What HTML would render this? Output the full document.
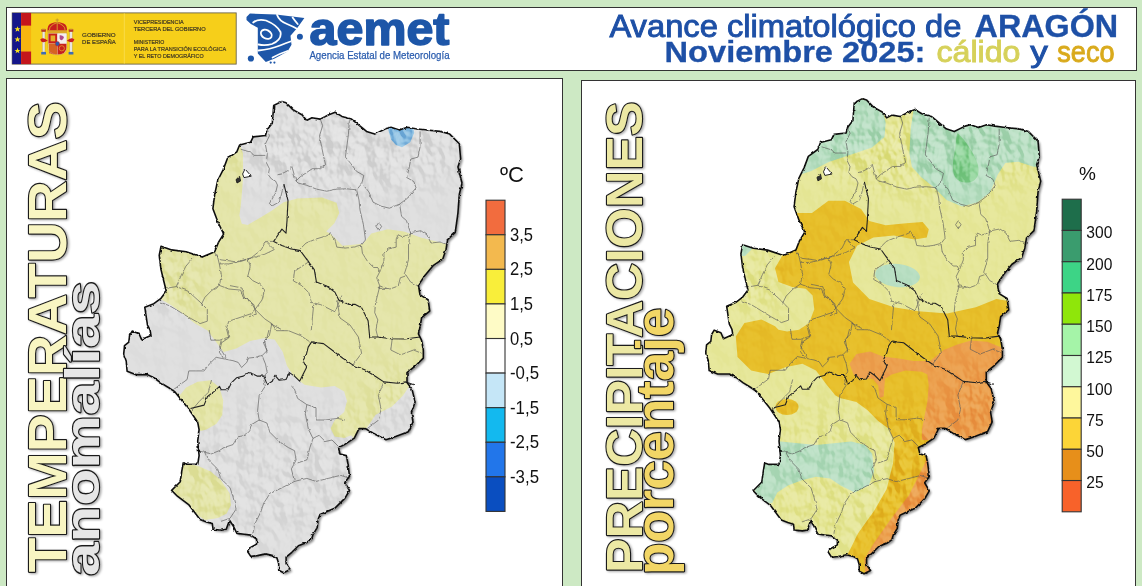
<!DOCTYPE html>
<html><head><meta charset="utf-8"><title>Avance climatológico de Aragón - Noviembre 2025</title>
<style>
html,body{margin:0;padding:0;}
body{width:1142px;height:586px;overflow:hidden;background:#cde9c4;position:relative;font-family:"Liberation Sans","DejaVu Sans",sans-serif;}
.box{position:absolute;background:#fff;box-sizing:border-box;border:1.5px solid #333;}
svg{position:absolute;left:0;top:0;}
</style></head><body>
<div class="box" style="left:6px;top:7px;width:1131px;height:63.5px;"></div>
<div class="box" style="left:6px;top:78px;width:557px;height:520px;"></div>
<div class="box" style="left:581px;top:80px;width:555px;height:520px;"></div>
<svg width="1142" height="586" viewBox="0 0 1142 586" font-family="Liberation Sans, DejaVu Sans, sans-serif">
<defs>
<path id="ol" d="M281.9 101.4 L286.0 102.7 L292.8 109.6 L302.3 115.0 L306.4 120.5 L311.9 117.8 L320.1 119.1 L328.3 115.0 L335.1 112.3 L341.9 116.4 L351.5 119.1 L358.3 124.6 L366.5 131.4 L374.7 134.1 L385.6 128.7 L391.0 127.3 L399.2 130.0 L407.4 127.3 L415.6 128.7 L426.5 130.0 L440.2 131.4 L449.7 134.1 L459.3 143.7 L460.6 158.7 L457.9 166.9 L462.0 183.3 L459.3 194.2 L457.9 213.3 L455.2 232.4 L447.6 239.7 L446.0 249.5 L442.7 259.2 L433.0 265.7 L424.9 275.4 L418.4 285.1 L420.0 294.9 L428.1 299.7 L429.7 311.1 L421.6 317.6 L420.0 327.3 L418.4 333.8 L421.6 340.3 L423.3 350.0 L423.3 358.1 L415.1 366.2 L407.0 372.7 L407.0 382.4 L411.9 388.9 L415.1 401.9 L411.4 412.7 L413.0 422.2 L408.3 431.7 L395.6 436.5 L386.0 439.7 L373.3 433.3 L365.4 428.6 L359.0 428.6 L354.3 438.1 L344.8 444.4 L338.4 447.6 L340.0 454.0 L346.3 455.6 L347.9 463.5 L349.5 476.2 L344.8 482.5 L349.5 490.5 L344.8 498.4 L335.2 507.9 L324.1 512.7 L320.0 514.6 L318.0 519.5 L317.2 527.7 L313.1 534.3 L311.5 539.2 L306.6 542.5 L298.4 545.7 L291.8 552.3 L286.1 557.2 L286.1 563.8 L290.2 569.5 L283.6 572.8 L278.7 570.3 L278.7 563.8 L277.0 558.0 L273.0 555.6 L265.6 553.9 L257.4 555.6 L250.8 556.4 L247.5 551.5 L249.2 548.2 L256.6 544.1 L256.6 539.2 L250.8 535.1 L244.3 534.3 L236.9 533.4 L232.8 525.2 L229.5 520.3 L226.2 529.3 L221.3 530.2 L213.1 529.3 L212.3 523.6 L206.6 522.0 L200.0 519.5 L189.0 504.9 L177.4 496.2 L171.6 490.4 L180.3 481.7 L181.7 471.6 L183.2 462.9 L187.5 464.3 L197.7 464.3 L199.1 455.7 L197.7 441.2 L199.1 429.6 L197.7 422.3 L191.9 413.6 L188.5 408.7 L181.7 400.2 L174.8 391.7 L169.7 388.3 L161.2 383.1 L154.4 378.0 L147.5 374.6 L135.6 374.6 L127.1 371.2 L126.2 361.0 L123.7 354.1 L124.5 345.6 L128.8 342.2 L129.6 335.4 L132.2 331.1 L139.0 333.7 L141.6 339.6 L151.0 335.4 L150.1 330.2 L147.5 325.1 L146.7 320.0 L144.8 307.3 L153.8 303.7 L161.0 298.3 L166.3 291.2 L164.5 284.0 L161.0 269.6 L159.2 255.3 L161.0 246.3 L171.7 249.9 L186.1 251.7 L202.2 257.1 L214.7 251.7 L218.3 242.7 L223.7 233.8 L218.3 223.0 L212.9 208.7 L214.7 194.3 L217.7 180.5 L223.2 169.6 L227.3 158.7 L236.8 151.9 L239.6 145.0 L250.5 142.3 L253.2 136.9 L265.5 135.5 L266.9 130.0 L272.3 123.2 L273.7 105.5 Z"/>
<clipPath id="cL"><use href="#ol"/></clipPath>
<clipPath id="cR"><use href="#ol" transform="matrix(0.99,0,0,1.008,583.3,-3.6)"/></clipPath>
<filter id="sh" x="-10%" y="-10%" width="120%" height="120%"><feDropShadow dx="2" dy="2" stdDeviation="1.2" flood-color="#000" flood-opacity="0.45"/></filter>
<filter id="tsh" x="-10%" y="-10%" width="120%" height="120%"><feDropShadow dx="1.5" dy="1" stdDeviation="0.8" flood-color="#000" flood-opacity="0.35"/></filter>
<filter id="tex" x="100" y="90" width="380" height="500" filterUnits="userSpaceOnUse" color-interpolation-filters="sRGB">
<feTurbulence type="fractalNoise" baseFrequency="0.07 0.05" numOctaves="3" seed="11"/>
<feColorMatrix type="matrix" values="0 0 0 0 0  0 0 0 0 0  0 0 0 0 0  1 0 0 0 0"/>
<feDiffuseLighting surfaceScale="11" diffuseConstant="0.84" lighting-color="#fff"><feDistantLight azimuth="315" elevation="40"/></feDiffuseLighting>
</filter>
<filter id="mb" x="-50%" y="-50%" width="200%" height="200%"><feGaussianBlur stdDeviation="18"/></filter>
<mask id="mm" maskUnits="userSpaceOnUse" x="100" y="90" width="380" height="500">
<rect x="100" y="90" width="380" height="500" fill="#181818"/>
<g filter="url(#mb)" fill="#b0b0b0">
<ellipse cx="350" cy="150" rx="120" ry="42"/>
<ellipse cx="250" cy="480" rx="80" ry="75" opacity="0.55"/>
<ellipse cx="330" cy="470" rx="40" ry="60" opacity="0.55"/>
<ellipse cx="395" cy="405" rx="30" ry="35" opacity="0.6"/>
<ellipse cx="170" cy="285" rx="25" ry="28"/>
</g>
</mask>
<filter id="jag" x="-5%" y="-5%" width="110%" height="110%">
<feTurbulence type="fractalNoise" baseFrequency="0.22" numOctaves="2" seed="2" result="t"/>
<feDisplacementMap in="SourceGraphic" in2="t" scale="2.6" xChannelSelector="R" yChannelSelector="G"/>
</filter>
</defs>

<!-- GOBIERNO DE ESPAÑA -->
<rect x="12.2" y="12.9" width="224" height="51.2" fill="#f6cf1a" stroke="#6a6450" stroke-width="0.9"/>
<rect x="12.2" y="12.9" width="8.9" height="51.2" fill="#15168a"/>
<rect x="21.1" y="12.9" width="10" height="12.9" fill="#c4161c"/>
<rect x="21.1" y="25.8" width="10" height="25.7" fill="#f7b50f"/>
<rect x="21.1" y="51.5" width="10" height="12.6" fill="#c4161c"/>
<g fill="#f8e21a">
<path id="star" d="M17.5 26.2 L18.3 28.3 L20.5 28.3 L18.8 29.6 L19.4 31.7 L17.5 30.5 L15.6 31.7 L16.2 29.6 L14.5 28.3 L16.7 28.3 Z"/>
<use href="#star" transform="translate(0,10.2)"/>
<use href="#star" transform="translate(0,21.6)"/>
</g>
<line x1="124.3" y1="13.4" x2="124.3" y2="63.6" stroke="#f9db4a" stroke-width="1"/>
<!-- coat of arms -->
<g>
<rect x="42.2" y="31.5" width="2.8" height="20.5" fill="#e9e6e0" stroke="#b0902a" stroke-width="0.35"/>
<rect x="69.6" y="31.5" width="2.8" height="20.5" fill="#e9e6e0" stroke="#b0902a" stroke-width="0.35"/>
<path d="M41.3 29.2 h4.6 v2.5 h-4.6 Z M68.7 29.2 h4.6 v2.5 h-4.6 Z" fill="#b8362a"/>
<path d="M42 28.4 h3.2 v1 h-3.2 Z M69.4 28.4 h3.2 v1 h-3.2 Z" fill="#d8a830"/>
<path d="M41.2 52 h4.8 v2.4 h-4.8 Z M68.6 52 h4.8 v2.4 h-4.8 Z" fill="#3c6cb4"/>
<path d="M40.2 39.5 Q43.5 36.5 47.8 40.8 Q44 43 41.5 41.8 Z M74.4 39.5 Q71.1 36.5 66.8 40.8 Q70.6 43 73.1 41.8 Z" fill="#c8201e"/>
<!-- shield -->
<path d="M48 33.2 L66.8 33.2 L66.8 47.5 Q66.8 54.8 57.4 54.8 Q48 54.8 48 47.5 Z" fill="#f2efe8" stroke="#b0902a" stroke-width="0.4"/>
<path d="M48.4 33.6 H57.3 V43.6 H48.4 Z" fill="#c8201e"/>
<path d="M50.6 35.5 h4.6 v5.8 h-4.6 Z" fill="#e6b02c"/>
<path d="M57.5 33.6 H66.4 V43.6 H57.5 Z" fill="#f4eeee"/>
<path d="M59.6 35.3 q2.5 -0.6 4.4 1.8 q-0.6 2.4 -2 3 q-1.8 0.4 -2.4 -1.6 Z" fill="#b04a8a"/>
<path d="M48.4 43.8 H57.3 V54.4 Q48.4 54 48.4 47.5 Z" fill="#e6b02c"/>
<path d="M50 44 V53.4 M52 44 V54 M54 44 V54.3 M56 44 V54.4" stroke="#c8201e" stroke-width="1.05"/>
<path d="M57.5 43.8 H66.4 V47.5 Q66.4 54.2 57.5 54.4 Z" fill="#c8201e"/>
<circle cx="61.8" cy="48.3" r="2.6" fill="none" stroke="#e6b02c" stroke-width="0.7"/>
<ellipse cx="57.4" cy="43.7" rx="2.1" ry="2.3" fill="#2c5cac" stroke="#c8201e" stroke-width="0.5"/>
<!-- crown -->
<path d="M47.6 31.5 Q47 25 51 23.5 Q57.2 21 63.6 23.5 Q67.6 25 66.9 31.5 Z" fill="#c8201e"/>
<path d="M47.4 30.2 H67 V32.9 H47.4 Z" fill="#dca62a"/>
<path d="M49.5 30 Q49 25.5 57.2 22.6 Q65.4 25.5 65 30 M57.2 22.6 V30" fill="none" stroke="#dca62a" stroke-width="0.9"/>
<path d="M56.7 18.6 h1 v4 h-1 Z M55.6 19.6 h3.2 v0.9 h-3.2 Z" fill="#c89a28"/>
</g>
<g fill="#3c3522" stroke="#3c3522" stroke-width="0.18" font-family="Liberation Sans, DejaVu Sans, sans-serif">
<text x="82.1" y="36.9" font-size="5.9" textLength="33.6" lengthAdjust="spacingAndGlyphs">GOBIERNO</text>
<text x="82.1" y="44.1" font-size="5.9" textLength="33.6" lengthAdjust="spacingAndGlyphs">DE ESPAÑA</text>
<text x="133.8" y="23.9" font-size="5.4" textLength="49.9" lengthAdjust="spacingAndGlyphs">VICEPRESIDENCIA</text>
<text x="133.8" y="30.7" font-size="5.4" textLength="71.9" lengthAdjust="spacingAndGlyphs">TERCERA DEL GOBIERNO</text>
<text x="133.8" y="44.1" font-size="5.4" textLength="30.4" lengthAdjust="spacingAndGlyphs">MINISTERIO</text>
<text x="133.8" y="51" font-size="5.4" textLength="92.4" lengthAdjust="spacingAndGlyphs">PARA LA TRANSICIÓN ECOLÓGICA</text>
<text x="133.8" y="57.5" font-size="5.4" textLength="69.8" lengthAdjust="spacingAndGlyphs">Y EL RETO DEMOGRÁFICO</text>
</g>
<!-- AEMET LOGO -->
<g fill="#1d56a8">
<path d="M246.5 19.9 L246.5 16.9 L249.9 13.5 L276 14.5 L304.4 17.9 L297.4 27.8 L290.5 35.7 L291.5 44.7 L287.5 51.6 L274.7 58.5 L265.8 62 L257.8 53.6 L257.8 27.8 L250.9 23.9 Z"/>
<circle cx="250.9" cy="58.5" r="3.1"/>
<circle cx="299.9" cy="36.7" r="3"/>
<circle cx="270.7" cy="62.6" r="1.1"/>
<circle cx="274.4" cy="62.6" r="1.1"/>
</g>
<g fill="none" stroke="#fff" stroke-width="1.8" stroke-linecap="round">
<ellipse cx="266.3" cy="34.3" rx="5.8" ry="4.2" transform="rotate(28 266.3 34.3)"/>
<path d="M253.2 22.5 Q258 18.5 266 20.5 Q277 25 280.5 32 Q282 40 272 44 Q265 46 258.5 44.5"/>
<path d="M277 14.8 Q279 21 287 24 Q293 26.5 296.5 28.5"/>
<path d="M292.6 17.6 Q295 21 297.7 24"/>
<path d="M258.4 50.5 Q270 49.5 280 45.5 Q286 43 290.5 41.5"/>
<path d="M272.6 57.5 Q280 53.5 287.5 51"/>
</g>
<text x="309.6" y="44.5" font-size="46" font-weight="bold" fill="#1d56a8" stroke="#1d56a8" stroke-width="1.6" stroke-linejoin="round" textLength="139.8" lengthAdjust="spacingAndGlyphs">aemet</text>
<text x="309.4" y="59.3" font-size="11" fill="#2a5cae" stroke="#2a5cae" stroke-width="0.25" textLength="140.2" lengthAdjust="spacingAndGlyphs">Agencia Estatal de Meteorología</text>
<!-- TITLE -->
<g fill="#1e50a6" font-family="Liberation Sans, DejaVu Sans, sans-serif">
<text x="609.4" y="36.8" font-size="30.5" stroke="#1e50a6" stroke-width="0.9" textLength="352" lengthAdjust="spacingAndGlyphs">Avance climatológico de</text>
<text x="974.6" y="36.8" font-size="30.5" font-weight="bold" stroke="#1e50a6" stroke-width="0.3" textLength="143.6" lengthAdjust="spacingAndGlyphs">ARAGÓN</text>
<text x="664.6" y="62" font-size="29.5" font-weight="bold" stroke="#1e50a6" stroke-width="0.3" textLength="260.8" lengthAdjust="spacingAndGlyphs">Noviembre 2025:</text>
<text x="936.5" y="62" font-size="29.5" fill="#d6d15a" stroke="#d6d15a" stroke-width="0.9" textLength="84" lengthAdjust="spacingAndGlyphs">cálido</text>
<text x="1030.2" y="62" font-size="29.5" stroke="#1e50a6" stroke-width="0.9" textLength="17.6" lengthAdjust="spacingAndGlyphs">y</text>
<text x="1057.3" y="62" font-size="29.5" fill="#d9aa1c" stroke="#d9aa1c" stroke-width="0.9" textLength="57.2" lengthAdjust="spacingAndGlyphs">seco</text>
</g>

<!-- LEFT MAP -->
<use href="#ol" fill="#999" filter="url(#sh)"/>
<g clip-path="url(#cL)">
<rect x="100" y="90" width="380" height="500" fill="#dfdfdf"/>
<path d="M230.0 140.0 L240.6 146.3 L243.0 153.4 L243.0 179.7 L241.0 203.5 L239.4 215.5 L241.8 223.8 L247.7 225.0 L259.7 217.9 L271.6 210.7 L283.5 202.3 L297.5 198.6 L322.1 197.4 L336.5 202.7 L339.3 213.0 L334.4 223.2 L326.2 231.4 L330.3 233.4 L342.6 245.7 L363.1 243.7 L371.3 233.4 L387.7 229.3 L404.1 231.4 L420.5 237.5 L445.1 243.7 L470.0 243.0 L470.0 382.0 L411.2 382.0 L408.4 387.4 L403.0 395.6 L392.0 406.5 L375.6 414.7 L364.7 431.1 L360.0 445.0 L351.1 435.2 L344.2 437.9 L334.7 436.6 L330.6 428.4 L334.7 420.2 L344.2 412.0 L347.0 401.1 L344.2 391.5 L334.7 386.0 L321.0 387.4 L304.6 384.7 L293.7 376.5 L286.9 365.6 L282.8 351.9 L274.6 339.6 L263.7 338.2 L250.0 341.0 L236.2 348.5 L223.7 352.1 L218.3 344.9 L207.6 330.6 L195.0 323.4 L186.1 316.2 L171.7 305.5 L159.2 298.3 L140.0 295.0 L140.0 140.0 Z" fill="#e4e5a9"/>
<path d="M175.0 392.0 L180.3 394.8 L186.1 387.5 L197.7 381.7 L210.7 380.3 L219.4 387.5 L223.2 400.6 L222.3 415.1 L216.5 423.8 L206.4 429.6 L200.6 431.0 L196.0 425.0 Z" fill="#e4e5a9"/>
<path d="M180.0 462.0 L187.5 464.3 L197.7 465.8 L210.7 471.6 L220.9 480.3 L229.6 493.3 L231.0 504.9 L226.7 513.6 L218.0 518.0 L205.0 520.0 L190.0 510.0 L165.0 495.0 Z" fill="#e4e5a9"/>
<path d="M386.0 125.0 L388.3 130.0 L391.0 139.6 L396.0 145.0 L402.0 147.2 L410.2 142.3 L414.2 132.8 L413.0 125.0 Z" fill="#8fc1e3"/>
<rect x="100" y="90" width="380" height="500" filter="url(#tex)" mask="url(#mm)" style="mix-blend-mode:soft-light"/>
</g>
<g id="bd" fill="none" stroke-linejoin="round" filter="url(#jag)"><g stroke="#5a5a5a" stroke-width="0.65"><path d="M240.7 149.2 L250.9 152.3 L254.0 155.4 L265.3 155.4"/><path d="M267.3 128.8 L269.4 135.9 L265.3 144.1 L267.3 154.4 L266.3 162.5 L269.4 168.7 L268.3 174.8 L271.4 178.9 L275.5 181.0 L277.5 185.1 L275.5 193.2 L269.4 203.5 L272.0 206.0 L279.0 202.0 L281.0 196.0 L283.9 184.1"/><path d="M320.5 119.6 L322.6 125.7 L319.5 135.9 L321.5 146.2 L323.6 156.4 L325.6 164.6 L320.5 168.7 L312.3 168.7 L306.2 172.8 L300.1 176.9 L296.0 181.0 L298.0 183.0 L306.2 185.1 L316.4 189.1 L326.7 191.2 L336.9 189.1 L346.4 188.8 L356.6 189.8"/><path d="M296.0 181.0 L291.9 166.6 L287.8 170.7 L281.6 173.8 L277.5 174.8"/><path d="M349.4 120.2 L348.4 134.6 L345.4 157.1 L350.5 163.2 L356.6 171.4 L363.8 175.5 L361.7 183.7 L356.6 189.8 L359.0 200.0 L360.0 210.0 L363.4 224.6 L365.5 239.9 L361.4 245.0"/><path d="M363.8 185.7 L368.9 191.9 L373.0 202.1 L381.2 206.2 L389.4 208.2 L399.6 204.1"/><path d="M420.1 131.5 L420.1 146.8 L418.0 157.1 L410.8 159.1 L408.8 169.4 L406.7 177.5 L413.9 181.6 L416.0 187.8 L407.8 198.0 L399.6 204.1 L401.6 216.4 L406.4 220.5 L410.5 232.7"/><path d="M410.5 232.7 L420.8 230.7 L426.9 234.8 L431.0 243.0 L440.0 242.0 L446.0 244.0"/><path d="M361.4 245.0 L362.4 253.2 L367.5 261.4 L373.7 267.5 L377.8 267.5 L379.8 271.6 L376.7 277.8 L379.8 286.0 L377.8 294.1 L375.7 302.3 L374.7 312.6 L377.8 319.9 L376.0 330.0 L377.8 337.0"/><path d="M379.8 286.0 L390.0 289.0 L398.2 286.0 L400.3 277.8 L406.4 275.7 L410.5 281.9 L418.0 286.0"/><path d="M379.8 271.6 L383.9 261.4 L383.9 253.2 L388.0 249.1 L396.2 247.1 L396.2 238.9 L398.2 234.8 L402.3 236.8 L408.5 234.8 L410.5 232.7"/><path d="M410.5 232.7 L408.5 245.0 L408.5 259.4 L406.4 267.5 L404.4 273.7 L406.4 275.7"/><path d="M300.0 249.1 L306.1 243.0 L316.4 238.9 L326.6 235.8 L330.7 233.8 L334.8 238.9 L336.8 247.1 L345.0 248.1 L353.2 247.1 L361.4 245.0"/><path d="M273.7 241.4 L265.5 241.4 L261.4 249.6 L251.2 257.8 L236.8 261.9 L220.5 259.8 L214.7 253.0"/><path d="M193.0 257.9 L185.8 266.3 L181.0 275.8 L176.3 286.6 L169.1 287.8 L163.0 288.0"/><path d="M176.3 286.6 L188.2 291.3 L200.1 302.1 L207.3 309.3 L207.3 321.2 L200.1 323.6 L190.0 318.0 L180.0 312.0 L170.0 306.0 L160.0 302.0"/><path d="M216.9 254.3 L219.3 263.9 L221.6 275.8 L219.3 285.4 L212.1 290.1 L204.9 297.3 L201.3 304.5"/><path d="M219.3 285.4 L228.8 289.0 L240.7 290.1 L243.1 297.3 L250.3 300.9 L255.1 309.3 L250.3 314.0 L243.1 316.4 L236.0 318.8 L228.8 321.2 L226.4 328.4 L228.8 337.9 L221.6 342.7 L219.3 352.2 L223.4 358.2"/><path d="M219.3 263.9 L228.8 263.9 L240.7 261.5 L247.9 259.1 L250.3 266.3 L247.9 275.8 L252.7 280.6 L259.9 284.2 L264.6 290.0 L262.0 300.0 L255.1 309.3"/><path d="M247.9 259.1 L264.6 254.3 L274.2 249.6 L267.0 242.4"/><path d="M255.1 309.3 L264.6 318.8 L271.8 323.6 L276.6 330.7 L288.5 330.7 L300.4 335.5 L309.4 341.5"/><path d="M271.8 323.6 L269.4 335.5 L264.6 340.3 L267.0 352.2 L266.4 353.4"/><path d="M173.4 389.7 L187.1 379.5 L188.8 370.9 L195.6 370.9 L204.1 370.9 L209.2 364.1 L216.1 357.3 L224.6 359.0 L233.1 360.7 L238.2 362.4 L241.6 367.5 L246.8 362.4 L248.5 358.1 L255.3 357.3 L262.1 355.6 L267.2 350.5 L263.8 343.6 L267.2 336.8 L268.9 330.0"/><path d="M262.1 355.6 L265.5 364.1 L267.2 372.6 L263.8 376.1"/><path d="M221.2 340.2 L219.5 347.1 L224.6 355.6 L226.0 358.0"/><path d="M209.2 330.0 L210.9 340.2 L219.5 340.2 L229.7 336.8 L228.0 330.0"/><path d="M383.8 381.9 L378.4 395.6 L381.1 409.3 L378.4 420.2 L367.5 428.4 L365.4 428.6"/><path d="M377.8 288.4 L387.6 288.4"/><path d="M392.4 337.0 L390.8 350.0 L400.6 354.9 L413.5 350.0 L421.6 353.3"/><path d="M358.4 337.0 L361.6 353.3 L351.9 366.2"/><path d="M337.0 300.0 L340.0 318.0 L350.0 325.0 L358.4 337.0"/><path d="M263.8 380.0 L265.3 386.1 L259.2 395.4 L257.6 410.7 L259.2 420.0 L251.5 424.6 L250.0 430.7 L245.3 435.3 L237.6 436.9 L233.0 444.6 L223.8 447.6 L219.2 450.7 L211.5 453.8 L203.8 452.2 L199.0 451.0"/><path d="M259.2 420.0 L266.9 423.0 L269.9 432.3 L279.1 441.5 L288.4 447.6 L294.5 450.7 L296.1 459.9 L291.4 469.1 L294.5 481.4"/><path d="M291.4 386.1 L294.5 389.2 L297.6 398.4 L306.8 404.6 L305.3 413.8 L308.4 429.2 L313.0 438.4 L309.9 447.6 L306.8 459.9 L297.6 462.9"/><path d="M294.5 481.4 L282.2 487.6 L269.9 493.7 L263.8 503.0 L260.7 512.2 L254.6 524.5 L253.0 533.7"/><path d="M294.5 481.4 L306.8 478.4 L316.0 481.4 L328.3 478.4 L340.6 475.3 L349.9 478.4"/><path d="M205.0 453.0 L208.4 459.9 L217.7 469.1 L220.7 478.4 L230.0 487.6 L233.0 496.8 L236.1 509.1 L230.0 518.3 L220.7 521.4"/><path d="M306.8 404.6 L316.0 407.7 L316.0 420.0 L325.3 420.0 L337.6 418.4 L345.0 420.0"/><path d="M313.0 438.4 L319.1 435.3 L325.3 441.5 L332.0 440.0 L338.0 446.0"/><path d="M211.5 380.0 L208.4 392.3 L199.2 401.5 L192.0 410.0"/><path d="M306.5 258.1 L308.9 261.7 L294.5 271.3 L293.3 280.8 L301.7 285.6 L308.9 292.8 L311.3 302.3 L320.8 304.7 L335.2 311.9 L339.9 299.9 L342.3 295.2"/><path d="M230.0 285.6 L242.0 288.0 L244.3 297.6 L253.9 304.7 L256.3 314.3 L249.1 316.7"/><path d="M313.7 304.7 L312.5 316.7 L311.3 330.1"/><path d="M270.6 323.8 L282.6 330.1"/><path d="M376.0 226.5 L378.8 222.5 L381.6 226.5 L378.8 230.5 Z"/></g><path d="M245.0 169.0 L251.3 176.2 L244.0 177.6 L242.6 174.0 Z" fill="#fff" stroke="#111" stroke-width="0.9"/><path d="M239.6 176.4 L240.6 181.0 L237.0 183.0 L236.0 179.6 Z" fill="#333" stroke="#111" stroke-width="0.8"/><g stroke="#222" stroke-width="1.1"><path d="M283.9 184.1 L288.0 200.5 L287.0 220.9 L286.0 233.2 L281.9 229.1 L277.8 235.3 L273.7 241.4 L281.9 245.5 L290.0 248.6 L300.3 250.6 L308.2 261.4 L314.3 269.6 L316.4 281.9 L326.6 286.0 L334.8 292.1 L338.9 300.3 L349.1 304.4 L355.3 304.4 L361.6 307.8 L368.1 320.8 L369.7 337.0 L377.8 337.0 L390.8 338.7 L405.0 339.0 L420.0 337.0"/><path d="M190.5 408.5 L204.1 405.1 L207.5 396.5 L214.3 391.4 L219.5 386.3 L221.2 389.7 L228.0 389.7 L231.4 382.9 L236.5 377.8 L243.3 376.1 L248.5 372.6 L253.6 374.3 L257.0 376.1 L263.8 376.1 L267.2 384.6 L272.3 381.2 L274.9 375.2 L279.2 380.3 L286.0 379.5 L289.4 372.6 L294.5 376.1 L299.6 381.2 L306.5 367.5 L303.0 360.7 L306.5 353.9 L308.2 347.1 L311.6 341.9 L316.7 342.8 L323.5 343.6 L333.3 351.0 L342.8 358.2 L353.8 365.6 L364.7 369.7 L375.6 376.5 L383.8 381.9 L397.5 383.3 L405.7 381.9 L413.9 384.7"/></g></g>
<use href="#ol" fill="none" stroke="#111" stroke-width="1.6" stroke-linejoin="round" filter="url(#jag)"/>
<!-- RIGHT MAP -->
<use href="#ol" transform="matrix(0.99,0,0,1.008,583.3,-3.6)" fill="#999" filter="url(#sh)"/>
<g clip-path="url(#cR)">
<rect x="680" y="90" width="380" height="500" fill="#e6e79a"/>
<path d="M785.0 213.0 L812.0 213.0 L828.4 200.7 L844.8 200.7 L861.1 208.9 L869.3 221.1 L885.7 225.2 L906.2 223.2 L922.6 222.0 L928.8 229.3 L926.7 237.5 L914.4 239.6 L893.9 235.5 L873.4 237.5 L857.0 245.7 L848.9 262.1 L853.0 282.6 L869.3 299.0 L893.9 307.2 L918.5 311.3 L947.2 313.4 L975.9 307.2 L996.4 299.0 L1008.7 301.0 L1040.0 300.0 L1040.0 600.0 L845.0 600.0 L845.4 558.7 L848.6 552.4 L858.1 533.3 L874.0 511.1 L886.7 488.9 L893.0 463.5 L894.6 442.8 L889.1 429.1 L878.2 421.0 L867.3 410.0 L856.4 401.9 L840.0 398.0 L835.2 395.2 L826.3 384.3 L816.0 370.6 L802.4 363.8 L785.3 367.2 L768.3 374.1 L751.2 370.6 L737.5 357.0 L735.8 336.5 L744.4 322.9 L761.4 319.5 L775.1 326.3 L778.5 329.7 L787.0 331.4 L799.0 329.7 L809.2 322.9 L814.3 309.2 L812.6 295.6 L805.8 288.7 L792.2 287.0 L778.5 281.9 L775.0 268.3 L781.9 256.3 L785.0 250.0 Z" fill="#e7bf2a"/>
<path d="M849.5 363.7 L856.4 354.1 L870.0 351.4 L883.7 356.8 L897.3 358.2 L913.7 360.9 L930.0 360.9 L943.7 350.0 L957.3 344.6 L971.0 340.5 L987.3 341.8 L1001.0 347.3 L1040.0 347.0 L1040.0 440.0 L921.9 440.0 L921.9 429.1 L924.6 415.5 L927.3 401.9 L928.7 385.5 L927.3 374.6 L921.9 371.8 L905.5 370.5 L891.8 374.6 L885.0 378.7 L883.7 396.4 L879.6 397.8 L878.2 385.5 L872.7 378.7 L861.8 378.7 L853.6 374.6 Z" fill="#eca04e"/>
<path d="M930.0 450.0 L924.8 463.5 L908.9 495.2 L889.8 520.6 L874.0 542.9 L864.4 558.7 L866.0 590.0 L980.0 590.0 L980.0 450.0 Z" fill="#eca04e"/>
<path d="M913.3 100.0 L913.3 111.8 L910.7 128.4 L909.4 154.0 L912.0 166.8 L921.0 177.0 L933.8 187.3 L946.6 200.1 L961.9 206.5 L977.3 202.6 L990.1 192.4 L997.8 174.5 L1005.4 163.0 L1018.2 161.7 L1033.6 166.8 L1060.0 166.8 L1060.0 100.0 Z" fill="#b9dfc3"/>
<path d="M790.0 100.0 L883.7 100.0 L883.7 114.6 L885.7 122.8 L884.5 137.0 L872.0 147.6 L850.5 154.8 L828.8 161.9 L811.3 171.1 L790.0 178.0 Z" fill="#b9dfc3"/>
<path d="M957.5 133 C962 137 967 143 971.5 151 C977 160 980 168 978 175 C975.5 181.5 970 183 964.5 182.5 C957.5 182 953.5 177 953 169 C952.5 160 955 153 955.5 146 C956 140 956 136 957.5 133 Z" fill="#90d49a"/>
<ellipse cx="897.5" cy="275.5" rx="22.5" ry="11.5" transform="rotate(6 897.5 275.5)" fill="#b9dfc3"/>
<path d="M755.0 440.0 L780.8 441.5 L798.4 443.3 L816.0 445.0 L833.6 443.3 L851.1 441.5 L865.2 445.0 L872.2 453.8 L874.0 471.4 L868.7 485.4 L854.7 492.5 L840.6 485.4 L830.1 478.4 L816.0 476.7 L801.9 480.2 L787.9 485.4 L777.3 492.5 L772.1 503.0 L755.0 505.0 Z" fill="#b9dfc3"/>
<ellipse cx="787" cy="407" rx="11.5" ry="8" fill="#e7bf2a"/>
<path d="M738 242 L751 243 L752 249 L745 256 L738 256 Z" fill="#b9dfc3"/>
<g transform="matrix(0.99,0,0,1.008,583.3,-3.6)"><rect x="100" y="90" width="380" height="500" filter="url(#tex)" mask="url(#mm)" style="mix-blend-mode:soft-light"/></g>
</g>
<use href="#bd" transform="matrix(0.99,0,0,1.008,583.3,-3.6)"/>
<g filter="url(#jag)"><use href="#ol" transform="matrix(0.99,0,0,1.008,583.3,-3.6)" fill="none" stroke="#111" stroke-width="1.6" stroke-linejoin="round"/></g>
<!-- LEGENDS -->
<text x="500" y="182.4" font-size="22" fill="#111">ºC</text>
<g fill="#111"><rect x="486.0" y="200.20" width="19" height="34.58" fill="#f26c3e" stroke="#333" stroke-width="1.1"/>
<rect x="486.0" y="234.78" width="19" height="34.58" fill="#f3b94e" stroke="#333" stroke-width="1.1"/>
<rect x="486.0" y="269.36" width="19" height="34.58" fill="#f9ee3a" stroke="#333" stroke-width="1.1"/>
<rect x="486.0" y="303.94" width="19" height="34.58" fill="#fefbc6" stroke="#333" stroke-width="1.1"/>
<rect x="486.0" y="338.52" width="19" height="34.58" fill="#ffffff" stroke="#333" stroke-width="1.1"/>
<rect x="486.0" y="373.10" width="19" height="34.58" fill="#c5e6f7" stroke="#333" stroke-width="1.1"/>
<rect x="486.0" y="407.68" width="19" height="34.58" fill="#13b9ef" stroke="#333" stroke-width="1.1"/>
<rect x="486.0" y="442.26" width="19" height="34.58" fill="#2276ea" stroke="#333" stroke-width="1.1"/>
<rect x="486.0" y="476.84" width="19" height="34.58" fill="#0a4ec0" stroke="#333" stroke-width="1.1"/>
<text x="510.0" y="234.78" font-size="17.8" dominant-baseline="central" textLength="23.0" lengthAdjust="spacingAndGlyphs">3,5</text>
<text x="510.0" y="269.36" font-size="17.8" dominant-baseline="central" textLength="23.0" lengthAdjust="spacingAndGlyphs">2,5</text>
<text x="510.0" y="303.94" font-size="17.8" dominant-baseline="central" textLength="23.0" lengthAdjust="spacingAndGlyphs">1,5</text>
<text x="510.0" y="338.52" font-size="17.8" dominant-baseline="central" textLength="23.0" lengthAdjust="spacingAndGlyphs">0,5</text>
<text x="510.0" y="373.10" font-size="17.8" dominant-baseline="central" textLength="29.0" lengthAdjust="spacingAndGlyphs">-0,5</text>
<text x="510.0" y="407.68" font-size="17.8" dominant-baseline="central" textLength="29.0" lengthAdjust="spacingAndGlyphs">-1,5</text>
<text x="510.0" y="442.26" font-size="17.8" dominant-baseline="central" textLength="29.0" lengthAdjust="spacingAndGlyphs">-2,5</text>
<text x="510.0" y="476.84" font-size="17.8" dominant-baseline="central" textLength="29.0" lengthAdjust="spacingAndGlyphs">-3,5</text></g>
<text x="1079" y="179.6" font-size="19" fill="#111">%</text>
<g fill="#111"><rect x="1062.2" y="199.20" width="19" height="31.26" fill="#1e6e4b" stroke="#333" stroke-width="1.1"/>
<rect x="1062.2" y="230.46" width="19" height="31.26" fill="#3a9c6e" stroke="#333" stroke-width="1.1"/>
<rect x="1062.2" y="261.72" width="19" height="31.26" fill="#3dd486" stroke="#333" stroke-width="1.1"/>
<rect x="1062.2" y="292.98" width="19" height="31.26" fill="#8fe60a" stroke="#333" stroke-width="1.1"/>
<rect x="1062.2" y="324.24" width="19" height="31.26" fill="#a5f4a8" stroke="#333" stroke-width="1.1"/>
<rect x="1062.2" y="355.50" width="19" height="31.26" fill="#d2f8d2" stroke="#333" stroke-width="1.1"/>
<rect x="1062.2" y="386.76" width="19" height="31.26" fill="#fef79c" stroke="#333" stroke-width="1.1"/>
<rect x="1062.2" y="418.02" width="19" height="31.26" fill="#fcd537" stroke="#333" stroke-width="1.1"/>
<rect x="1062.2" y="449.28" width="19" height="31.26" fill="#e78f1a" stroke="#333" stroke-width="1.1"/>
<rect x="1062.2" y="480.54" width="19" height="31.26" fill="#f8622a" stroke="#333" stroke-width="1.1"/>
<text x="1086.3" y="232.26" font-size="16.2" dominant-baseline="central" textLength="26.0" lengthAdjust="spacingAndGlyphs">300</text>
<text x="1086.3" y="263.52" font-size="16.2" dominant-baseline="central" textLength="26.0" lengthAdjust="spacingAndGlyphs">200</text>
<text x="1086.3" y="294.78" font-size="16.2" dominant-baseline="central" textLength="26.0" lengthAdjust="spacingAndGlyphs">175</text>
<text x="1086.3" y="326.04" font-size="16.2" dominant-baseline="central" textLength="26.0" lengthAdjust="spacingAndGlyphs">150</text>
<text x="1086.3" y="357.30" font-size="16.2" dominant-baseline="central" textLength="26.0" lengthAdjust="spacingAndGlyphs">125</text>
<text x="1086.3" y="388.56" font-size="16.2" dominant-baseline="central" textLength="26.0" lengthAdjust="spacingAndGlyphs">100</text>
<text x="1086.3" y="419.82" font-size="16.2" dominant-baseline="central" textLength="17.4" lengthAdjust="spacingAndGlyphs">75</text>
<text x="1086.3" y="451.08" font-size="16.2" dominant-baseline="central" textLength="17.4" lengthAdjust="spacingAndGlyphs">50</text>
<text x="1086.3" y="482.34" font-size="16.2" dominant-baseline="central" textLength="17.4" lengthAdjust="spacingAndGlyphs">25</text></g>
<!-- VERTICAL TITLES -->
<g filter="url(#tsh)" font-weight="bold" stroke="#1a1a1a" stroke-width="2.2" paint-order="stroke" stroke-linejoin="round">
<text transform="translate(66,572.5) rotate(-90)" font-size="54" fill="#f8f5c2" textLength="471" lengthAdjust="spacingAndGlyphs">TEMPERATURAS</text>
<text transform="translate(99,576) rotate(-90)" font-size="48" fill="#e6e6e6" textLength="295" lengthAdjust="spacingAndGlyphs">anomalías</text>
<text transform="translate(642,573) rotate(-90)" font-size="50.5" fill="#ece8a4" textLength="471.7" lengthAdjust="spacingAndGlyphs">PRECIPITACIONES</text>
<text transform="translate(672.7,575) rotate(-90)" font-size="51" fill="#f2d666" textLength="267.4" lengthAdjust="spacingAndGlyphs">porcentaje</text>
</g>
</svg>
</body></html>
